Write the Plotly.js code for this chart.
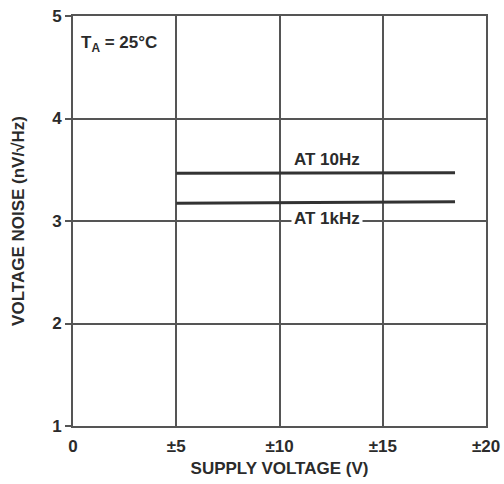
<!DOCTYPE html>
<html>
<head>
<meta charset="utf-8">
<script src="https://cdn.plot.ly/plotly-3.0.1.min.js"></script>
<style>html,body{margin:0;padding:0;background:#fff}#chart{width:504px;height:484px}</style>
</head>
<body>
<div id="chart"></div>
<script>
const supplyV10Hz = [5, 10, 15, 18.5];
const noise10Hz = [3.465, 3.465, 3.468, 3.47];
const supplyV1kHz = [5, 10, 15, 18.5];
const noise1kHz = [3.173, 3.178, 3.184, 3.188];
const xTickVals = [0, 5, 10, 15, 20];
const xTickText = ["0", "±5", "±10", "±15", "±20"];
const yTickVals = [1, 2, 3, 4, 5];

const fontFam = "Liberation Sans, Arial, sans-serif";
const txt = "#2b2b2b";
const fs = 17;

const traces = [
  {x: supplyV10Hz, y: noise10Hz, mode: "lines", line: {color: "#333", width: 3}, hoverinfo: "skip"},
  {x: supplyV1kHz, y: noise1kHz, mode: "lines", line: {color: "#333", width: 3}, hoverinfo: "skip"}
];

const layout = {
  width: 504, height: 484,
  margin: {l: 73, r: 18, t: 16, b: 58},
  paper_bgcolor: "#fff", plot_bgcolor: "#fff",
  showlegend: false,
  font: {family: fontFam, color: txt, size: fs, weight: "bold"},
  xaxis: {
    range: [0, 20], tickvals: xTickVals, ticktext: xTickText,
    showgrid: true, gridcolor: "#555", gridwidth: 2,
    zeroline: false, showline: true, linecolor: "#555", linewidth: 2, mirror: true,
    ticks: "", ticklabelstandoff: 4,
    tickfont: {family: fontFam, size: fs, color: txt, weight: "bold"},
    title: {text: "SUPPLY VOLTAGE (V)", standoff: 7, font: {family: fontFam, size: fs, color: txt, weight: "bold"}}
  },
  yaxis: {
    range: [1, 5], tickvals: yTickVals,
    showgrid: true, gridcolor: "#555", gridwidth: 2,
    zeroline: false, showline: true, linecolor: "#555", linewidth: 2, mirror: true,
    ticks: "outside", ticklen: 6, tickcolor: "#555", tickwidth: 2,
    tickfont: {family: fontFam, size: fs, color: txt, weight: "bold"},
    title: {text: "VOLTAGE NOISE (nV/√Hz)", standoff: 23, font: {family: fontFam, size: fs, color: txt, weight: "bold"}}
  },
  annotations: [
    {xref: "paper", yref: "y", x: 0.015, y: 4.73, xanchor: "left", yanchor: "middle",
     text: "T<sub>A</sub> = 25°C", showarrow: false, bgcolor: "#fff",
     font: {family: fontFam, size: fs, color: txt, weight: "bold"}},
    {xref: "x", yref: "y", x: 12.3, y: 3.6, xanchor: "center", yanchor: "middle",
     text: "AT 10Hz", showarrow: false,
     font: {family: fontFam, size: fs, color: txt, weight: "bold"}},
    {xref: "x", yref: "y", x: 12.3, y: 3.02, xanchor: "center", yanchor: "middle",
     text: "AT 1kHz", showarrow: false, bgcolor: "#fff", borderpad: 2,
     font: {family: fontFam, size: fs, color: txt, weight: "bold"}}
  ]
};

Plotly.newPlot("chart", traces, layout, {staticPlot: true, displayModeBar: false});
</script>
</body>
</html>
